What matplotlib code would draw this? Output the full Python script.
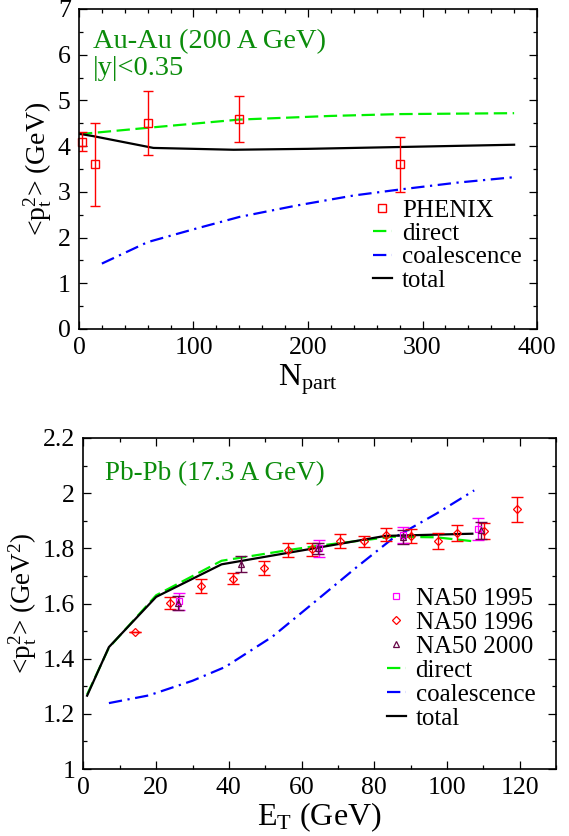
import numpy as np
import matplotlib
matplotlib.use('Agg')
import matplotlib.pyplot as plt
from matplotlib.ticker import MultipleLocator, FuncFormatter
from matplotlib.lines import Line2D

plt.rcParams['font.family'] = ['Liberation Serif', 'DejaVu Serif']
plt.rcParams['mathtext.fontset'] = 'custom'
plt.rcParams['mathtext.rm'] = 'Liberation Serif'
plt.rcParams['mathtext.it'] = 'Liberation Serif'
plt.rcParams['mathtext.default'] = 'rm'

# ---- Au-Au (200 A GeV) ----
phenix_x = [3, 14, 60, 140, 280]
phenix_y = [4.1, 3.6, 4.5, 4.6, 3.6]
phenix_err = [0.2, 0.9, 0.7, 0.5, 0.6]

au_direct_x = [0, 60, 140, 220, 280, 380]
au_direct_y = [4.26, 4.40, 4.58, 4.66, 4.70, 4.72]
au_coal_x = [20, 60, 100, 140, 190, 240, 280, 330, 380]
au_coal_y = [1.43, 1.90, 2.18, 2.45, 2.70, 2.92, 3.05, 3.20, 3.32]
au_total_x = [0, 12, 65, 135, 200, 280, 380]
au_total_y = [4.27, 4.22, 3.96, 3.92, 3.94, 3.98, 4.03]

# ---- Pb-Pb (17.3 A GeV) ----
na95_x = [26.2, 64.8, 87.8, 108.6]
na95_y = [1.608, 1.800, 1.848, 1.870]
na95_err = [0.03, 0.03, 0.03, 0.04]

na96_x = [14.2, 23.8, 32.2, 41.2, 49.6, 56.2, 62.8, 70.5, 77.2, 83.2, 90.0, 97.6, 102.8, 110.3, 119.2]
na96_y = [1.498, 1.602, 1.663, 1.690, 1.730, 1.793, 1.796, 1.827, 1.825, 1.850, 1.845, 1.827, 1.856, 1.863, 1.941]
na96_err = [0.0, 0.023, 0.025, 0.02, 0.025, 0.025, 0.025, 0.025, 0.02, 0.022, 0.025, 0.03, 0.03, 0.03, 0.045]

na00_x = [26.0, 43.3, 64.6, 87.8, 109.5]
na00_y = [1.603, 1.744, 1.800, 1.840, 1.865]
na00_err = [0.025, 0.03, 0.02, 0.025, 0.03]

pb_direct_x = [1, 7, 20, 38, 57, 65, 85, 97, 107]
pb_direct_y = [1.27, 1.44, 1.63, 1.755, 1.795, 1.81, 1.842, 1.84, 1.826]
pb_coal_x = [7, 18, 30, 39, 52, 64, 75, 85, 97, 107.5]
pb_coal_y = [1.239, 1.267, 1.32, 1.37, 1.48, 1.61, 1.73, 1.835, 1.925, 2.01]
pb_total_x = [1, 7, 20, 38, 63, 83, 107]
pb_total_y = [1.266, 1.442, 1.624, 1.742, 1.799, 1.845, 1.853]

GREEN_TXT = '#0b8c0b'
LIME = '#00f000'
BLUE = '#0000ff'
MAROON = '#670748'
dash = (0, (6, 2.5))
dashdot = (0, (6, 2.5, 1, 2.5))


def style_axes(ax):
    ax.tick_params(which='both', direction='in', top=True, right=True, labelsize=18.5, width=0.9)
    ax.tick_params(which='major', length=6, pad=6)
    ax.tick_params(which='minor', length=3)
    for s in ax.spines.values():
        s.set_linewidth(1.2)


fig = plt.figure(figsize=(5.69, 8.36), dpi=100)

# ---------- top panel ----------
ax1 = fig.add_axes([0.1388, 0.6065, 0.805, 0.3828])
ax1.plot(au_direct_x, au_direct_y, color=LIME, lw=1.6, ls=dash)
ax1.plot(au_coal_x, au_coal_y, color=BLUE, lw=1.6, ls=dashdot)
ax1.plot(au_total_x, au_total_y, color='black', lw=1.6)
ax1.errorbar(phenix_x, phenix_y, yerr=phenix_err, fmt='none', ecolor='red', elinewidth=1.0, capsize=3.6, capthick=1.0)
ax1.plot(phenix_x, phenix_y, 's', mfc='none', mec='red', ms=6, mew=1.0, clip_on=False)
ax1.set_xlim(0, 400)
ax1.set_ylim(0, 7)
ax1.xaxis.set_major_locator(MultipleLocator(100))
ax1.xaxis.set_minor_locator(MultipleLocator(20))
ax1.yaxis.set_major_locator(MultipleLocator(1))
ax1.yaxis.set_minor_locator(MultipleLocator(0.5))
style_axes(ax1)
ax1.set_xlabel(r'N$_{\mathrm{part}}$', fontsize=23, labelpad=2)
ax1.set_ylabel(r'<p$_t^2$> (GeV)', fontsize=20, labelpad=3)
ax1.text(0.031, 0.878, 'Au-Au (200 A GeV)', transform=ax1.transAxes, color=GREEN_TXT,
         fontsize=20.5, va='baseline', ha='left')
ax1.text(0.031, 0.794, '|y|<0.35', transform=ax1.transAxes, color=GREEN_TXT,
         fontsize=20.5, va='baseline', ha='left')

h1 = [Line2D([], [], ls='none', marker='s', mfc='none', mec='red', ms=6, mew=1.0),
      Line2D([], [], color=LIME, lw=1.6, ls=dash),
      Line2D([], [], color=BLUE, lw=1.6, ls=dashdot),
      Line2D([], [], color='black', lw=1.6)]
ax1.legend(h1, ['PHENIX', 'direct', 'coalescence', 'total'], loc='upper left', bbox_to_anchor=(0.642, 0.405),
           frameon=False, fontsize=18, borderpad=0, borderaxespad=0, labelspacing=0.03,
           handlelength=0.75, handletextpad=0.4)

# ---------- bottom panel ----------
ax2 = fig.add_axes([0.1467, 0.0801, 0.8304, 0.396])
ax2.plot(pb_direct_x, pb_direct_y, color=LIME, lw=1.6, ls=dash)
ax2.plot(pb_coal_x, pb_coal_y, color=BLUE, lw=1.6, ls=dashdot)
ax2.plot(pb_total_x, pb_total_y, color='black', lw=1.6)
ax2.errorbar(na96_x, na96_y, yerr=na96_err, fmt='none', ecolor='red', elinewidth=1.0, capsize=4, capthick=1.0)
ax2.errorbar(na95_x, na95_y, yerr=na95_err, fmt='none', ecolor='#ff00ff', elinewidth=1.0, capsize=4, capthick=1.0)
ax2.errorbar(na00_x, na00_y, yerr=na00_err, fmt='none', ecolor=MAROON, elinewidth=1.0, capsize=4, capthick=1.0)
ax2.plot(na96_x, na96_y, 'D', mfc='none', mec='red', ms=4, mew=0.9)
ax2.plot(na95_x, na95_y, 's', mfc='none', mec='#ff00ff', ms=4, mew=0.9)
ax2.plot(na00_x, na00_y, '^', mfc='none', mec=MAROON, ms=4.5, mew=0.9)
ax2.set_xlim(0, 130)
ax2.set_ylim(1, 2.2)
ax2.xaxis.set_major_locator(MultipleLocator(20))
ax2.xaxis.set_minor_locator(MultipleLocator(10))
ax2.yaxis.set_major_locator(MultipleLocator(0.2))
ax2.yaxis.set_minor_locator(MultipleLocator(0.1))
ax2.yaxis.set_major_formatter(FuncFormatter(lambda v, p: f'{v:g}'))
style_axes(ax2)
ax2.set_xlabel(r'E$_T$ (GeV)', fontsize=23, labelpad=1)
ax2.set_ylabel(r'<p$_t^2$> (GeV$^2$)', fontsize=19.5, labelpad=3)
ax2.text(0.045, 0.873, 'Pb-Pb (17.3 A GeV)', transform=ax2.transAxes, color=GREEN_TXT,
         fontsize=19.5, va='baseline', ha='left')

h2 = [Line2D([], [], ls='none', marker='s', mfc='none', mec='#ff00ff', ms=4, mew=0.9),
      Line2D([], [], ls='none', marker='D', mfc='none', mec='red', ms=4, mew=0.9),
      Line2D([], [], ls='none', marker='^', mfc='none', mec=MAROON, ms=4.5, mew=0.9),
      Line2D([], [], color=LIME, lw=1.6, ls=dash),
      Line2D([], [], color=BLUE, lw=1.6, ls=dashdot),
      Line2D([], [], color='black', lw=1.6)]
ax2.legend(h2, ['NA50 1995', 'NA50 1996', 'NA50 2000', 'direct', 'coalescence', 'total'], loc='upper left',
           bbox_to_anchor=(0.642, 0.548), frameon=False, fontsize=18, borderpad=0, borderaxespad=0,
           labelspacing=0.06, handlelength=0.75, handletextpad=0.4)

fig.savefig('out.png', dpi=100)
